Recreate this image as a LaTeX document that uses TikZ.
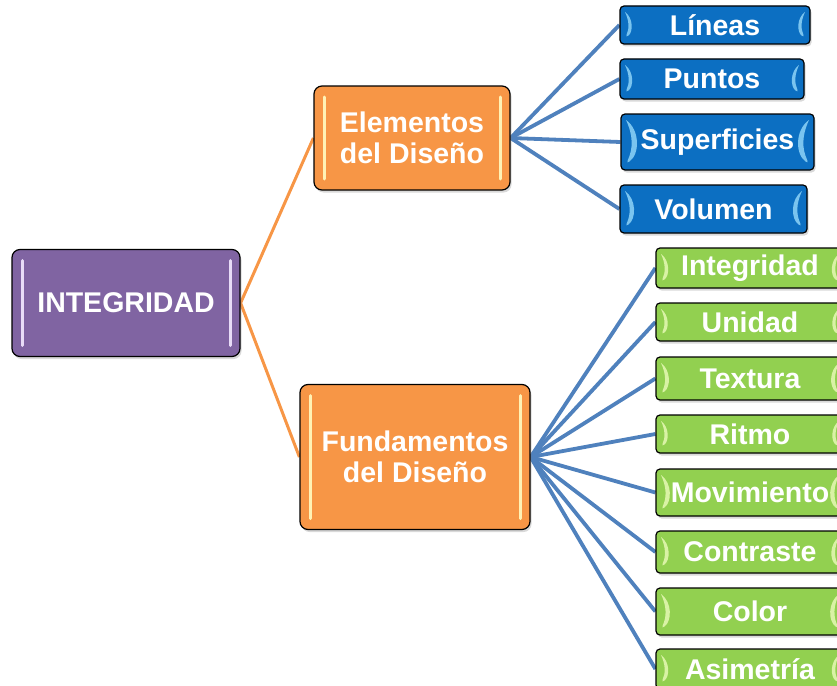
\documentclass[tikz,border=0pt]{standalone}
\usepackage{fontspec}
\setmainfont{Liberation Sans}
\usetikzlibrary{backgrounds, shadows}
\definecolor{purFill}{HTML}{8064A2}
\definecolor{purHi}{HTML}{E8DCF7}
\definecolor{orgFill}{HTML}{F79646}
\definecolor{orgHi}{HTML}{FFF2B5}
\definecolor{bluFill}{HTML}{0C6FC2}
\definecolor{bluHi}{HTML}{8ED4F8}
\definecolor{grnFill}{HTML}{92D050}
\definecolor{grnHi}{HTML}{E6F9B4}
\definecolor{linkBlue}{HTML}{4F81BD}
\definecolor{linkOrg}{HTML}{F79646}

\tikzset{
  boxText/.style={text=white, font=\bfseries\fontsize{28.5}{31}\selectfont, align=center, inner sep=0pt},
  mainBox/.style 2 args={boxText, draw=black, line width=1.2pt, rounded corners=8pt, fill=#1,
    drop shadow={opacity=0.3, shadow xshift=1.5pt, shadow yshift=-2.5pt},
    path picture={
      \draw[#2, line width=3pt, line cap=round]
        ([xshift=10pt,yshift=-11pt]path picture bounding box.north west) --
        ([xshift=10pt,yshift=11pt]path picture bounding box.south west);
      \draw[#2, line width=3pt, line cap=round]
        ([xshift=-10pt,yshift=-11pt]path picture bounding box.north east) --
        ([xshift=-10pt,yshift=11pt]path picture bounding box.south east);
    }},
  leafBox/.style 2 args={boxText, draw=black, line width=1.2pt, rounded corners=4pt, fill=#1,
    drop shadow={opacity=0.3, shadow xshift=1.5pt, shadow yshift=-2.5pt},
    path picture={
      \fill[#2, opacity=0.85]
        ([xshift=5pt,yshift=-6pt]path picture bounding box.north west) to[bend left=55]
        ([xshift=5pt,yshift=6pt]path picture bounding box.south west) to[bend right=25]
        ([xshift=5pt,yshift=-6pt]path picture bounding box.north west);
      \fill[#2, opacity=0.85]
        ([xshift=-5pt,yshift=-6pt]path picture bounding box.north east) to[bend right=55]
        ([xshift=-5pt,yshift=6pt]path picture bounding box.south east) to[bend left=25]
        ([xshift=-5pt,yshift=-6pt]path picture bounding box.north east);
    }},
  link/.style={line width=3.8pt, draw=linkBlue},
}

\begin{document}
\begin{tikzpicture}[x=1pt, y=-1pt]
  \useasboundingbox (0,0) rectangle (837,685);
  % ── root and the two branches ──
  \node[mainBox={purFill}{purHi}, minimum width=228pt, minimum height=107pt] (integ) at (126,303) {INTEGRIDAD};
  \node[mainBox={orgFill}{orgHi}, minimum width=196pt, minimum height=104pt] (elem) at (412,138) {Elementos\\del Diseño};
  \node[mainBox={orgFill}{orgHi}, minimum width=230pt, minimum height=145pt] (fund) at (415,457) {Fundamentos\\del Diseño};
  % ── Elementos: blue leaves ──
  \node[leafBox={bluFill}{bluHi}, minimum width=190pt, minimum height=38pt] (lin) at (715,25) {Líneas};
  \node[leafBox={bluFill}{bluHi}, minimum width=184pt, minimum height=40pt] (pun) at (712,79) {Puntos};
  \node[leafBox={bluFill}{bluHi}, minimum width=193pt, minimum height=56pt] (sup) at (717.5,142) {Superficies};
  \node[leafBox={bluFill}{bluHi}, minimum width=187pt, minimum height=48pt] (vol) at (713.5,209) {Volumen};
  % ── Fundamentos: green leaves (right edge runs off the page)
  \foreach \txt/\yy/\hh [count=\k] in {Integridad/268/40, Unidad/322/38, Textura/378.5/43, Ritmo/434/38,
      Movimiento/492.5/47, Contraste/552/42, Color/611.5/47, Asimetría/669/40} {
    \node[leafBox={grnFill}{grnHi}, minimum width=188pt, minimum height=\hh pt] (g\k) at (750,\yy) {\txt};
  }
  % ── connectors ──
  \begin{scope}[on background layer]
    \draw[link, draw=linkOrg, line width=3pt] (integ.east) -- (elem.west);
    \draw[link, draw=linkOrg, line width=3pt] (integ.east) -- (fund.west);
    \foreach \leaf in {lin, pun, sup, vol}
      \draw[link] (elem.east) -- (\leaf.west);
    \foreach \k in {1,...,8}
      \draw[link] (fund.east) -- (g\k.west);
  \end{scope}
\end{tikzpicture}
\end{document}
